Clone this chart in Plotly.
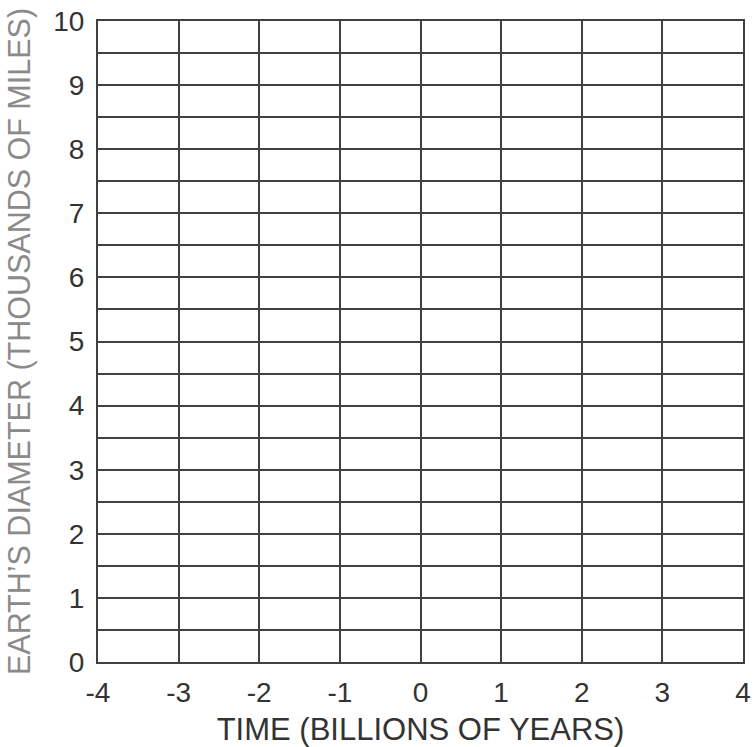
import plotly.graph_objects as go

x_ticks = [-4, -3, -2, -1, 0, 1, 2, 3, 4]
y_ticks = [0, 1, 2, 3, 4, 5, 6, 7, 8, 9, 10]
x_range = [-4, 4]
y_range = [0, 10]
x_title = "TIME (BILLIONS OF YEARS)"
y_title = "EARTH\u2019S DIAMETER (THOUSANDS OF MILES)"

GRID = "#404040"
FONT = "Liberation Sans, Arial, Helvetica, sans-serif"

fig = go.Figure()
fig.add_trace(go.Scatter(x=[], y=[], mode="markers", showlegend=False))

fig.update_layout(
    width=756, height=747,
    margin=dict(l=98, r=13, t=21, b=85, autoexpand=False),
    paper_bgcolor="white", plot_bgcolor="white",
    font=dict(family=FONT, size=28, color="#333333"),
    showlegend=False,
)
fig.update_xaxes(
    range=x_range, tickvals=x_ticks, ticktext=[str(v) for v in x_ticks],
    showgrid=True, gridcolor=GRID, gridwidth=2,
    showline=True, linecolor=GRID, linewidth=2, mirror=True,
    zeroline=False, ticks="", ticklabelstandoff=4, automargin=False,
    title=dict(text=x_title, font=dict(size=31, color="#333333"), standoff=12),
)
fig.update_yaxes(
    range=y_range, tickvals=y_ticks, ticktext=[str(v) for v in y_ticks],
    showgrid=True, gridcolor=GRID, gridwidth=2,
    minor=dict(dtick=0.5, showgrid=True, gridcolor=GRID, gridwidth=2),
    showline=True, linecolor=GRID, linewidth=2, mirror=True,
    zeroline=False, ticks="", ticklabelstandoff=6, automargin=False,
    title=dict(text=y_title, font=dict(size=30.5, color="#8a8a8a"), standoff=14),
)

fig.write_html("out.html", config={"displayModeBar": False},
               post_script="document.body.style.margin='0';")
